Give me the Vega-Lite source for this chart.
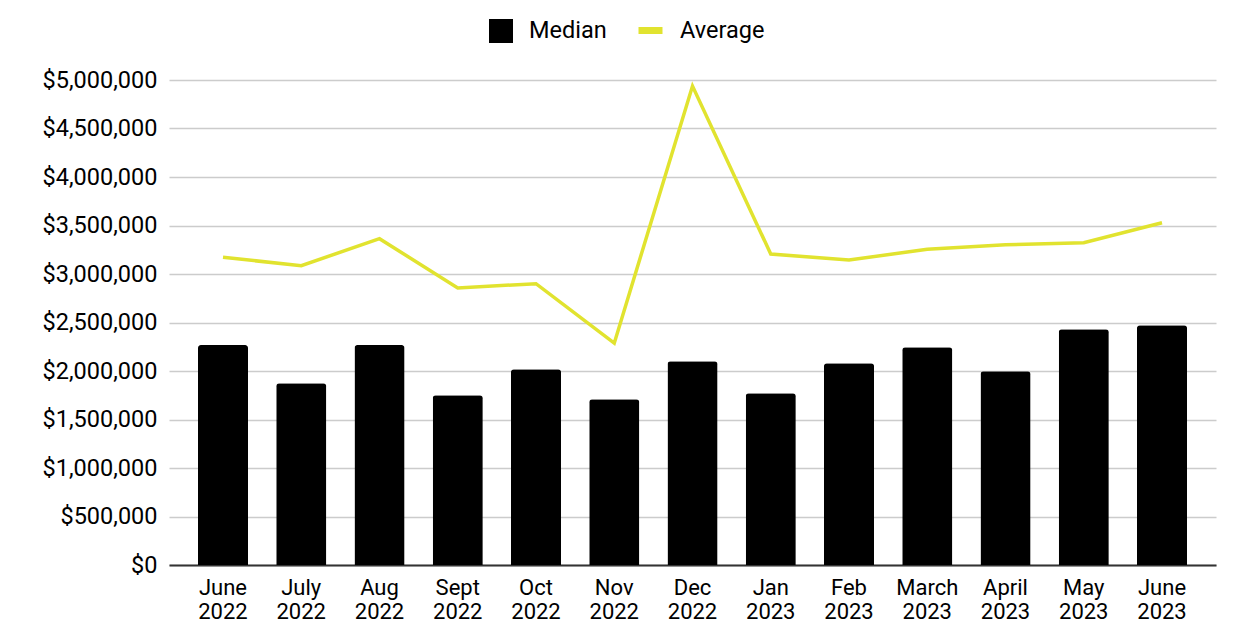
{
  "$schema": "https://vega.github.io/schema/vega-lite/v6.json",
  "width": 1047,
  "height": 485,
  "autosize": "none",
  "padding": {"left": 169, "top": 80, "right": 38, "bottom": 73},
  "background": "white",
  "config": {"font": "Roboto", "view": {"stroke": null}},
  "data": {
    "values": [
      {"month": "June 2022", "median": 2268000, "average": 3172000},
      {"month": "July 2022", "median": 1873000, "average": 3086000},
      {"month": "Aug 2022", "median": 2268000, "average": 3364000},
      {"month": "Sept 2022", "median": 1749000, "average": 2856000},
      {"month": "Oct 2022", "median": 2017000, "average": 2900000},
      {"month": "Nov 2022", "median": 1708000, "average": 2287000},
      {"month": "Dec 2022", "median": 2100000, "average": 4938000},
      {"month": "Jan 2023", "median": 1770000, "average": 3206000},
      {"month": "Feb 2023", "median": 2079000, "average": 3144000},
      {"month": "March 2023", "median": 2244000, "average": 3255000},
      {"month": "April 2023", "median": 1997000, "average": 3302000},
      {"month": "May 2023", "median": 2430000, "average": 3323000},
      {"month": "June 2023", "median": 2471000, "average": 3529000}
    ]
  },
  "encoding": {
    "x": {
      "field": "month",
      "type": "nominal",
      "sort": null,
      "scale": {"paddingInner": 0.36, "paddingOuter": 0.37},
      "axis": {
        "title": null,
        "labelAngle": 0,
        "labelExpr": "split(datum.label, ' ')",
        "labelFontSize": 22,
        "labelLineHeight": 24,
        "labelPadding": 12,
        "labelColor": "#000000",
        "ticks": false,
        "domainColor": "#333333",
        "domainWidth": 2,
        "grid": false
      }
    }
  },
  "layer": [
    {
      "mark": {"type": "bar", "cornerRadiusTopLeft": 3, "cornerRadiusTopRight": 3},
      "encoding": {
        "y": {
          "field": "median",
          "type": "quantitative",
          "scale": {"domain": [0, 5000000]},
          "axis": {
            "title": null,
            "values": [0, 500000, 1000000, 1500000, 2000000, 2500000, 3000000, 3500000, 4000000, 4500000, 5000000],
            "format": "$,.0f",
            "labelFontSize": 23.5,
            "labelPadding": 12,
            "labelColor": "#000000",
            "ticks": false,
            "domain": false,
            "gridColor": "#cccccc",
            "gridWidth": 1.5
          }
        },
        "fill": {
          "datum": "Median",
          "type": "nominal",
          "scale": {"range": ["#000000"]},
          "legend": {
            "title": null,
            "orient": "none",
            "legendX": 319,
            "legendY": -62,
            "symbolType": "square",
            "symbolSize": 576,
            "labelFontSize": 23.5,
            "labelColor": "#000000",
            "labelOffset": 15
          }
        }
      }
    },
    {
      "mark": {"type": "line", "strokeWidth": 3.5},
      "encoding": {
        "y": {
          "field": "average",
          "type": "quantitative",
          "axis": {
            "title": null,
            "values": [0, 500000, 1000000, 1500000, 2000000, 2500000, 3000000, 3500000, 4000000, 4500000, 5000000],
            "format": "$,.0f",
            "labelFontSize": 23.5,
            "labelPadding": 12,
            "labelColor": "#000000",
            "ticks": false,
            "domain": false,
            "gridColor": "#cccccc",
            "gridWidth": 1.5
          }
        },
        "stroke": {
          "datum": "Average",
          "type": "nominal",
          "scale": {"range": ["#e1e32f"]},
          "legend": {
            "title": null,
            "orient": "none",
            "legendX": 466,
            "legendY": -65,
            "symbolType": "stroke",
            "symbolSize": 576,
            "symbolStrokeWidth": 7,
            "labelFontSize": 23.5,
            "labelColor": "#000000",
            "labelOffset": 14
          }
        }
      }
    }
  ]
}
